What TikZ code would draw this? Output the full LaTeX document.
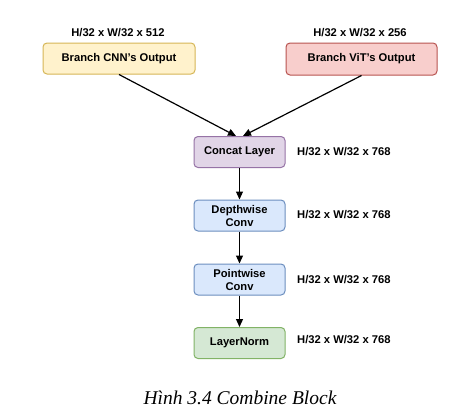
\documentclass[tikz,border=0pt]{standalone}
\usepackage{fontspec}
\setmainfont{Liberation Sans}
\newfontfamily\capfont{Liberation Serif}
\usetikzlibrary{arrows.meta}
\tikzset{
  blk/.style={draw, line width=1pt, rounded corners=4pt, minimum width=91pt, minimum height=31pt, align=center, font=\fontsize{11.2}{13}\selectfont\bfseries, inner sep=1pt},
  dimlbl/.style={font=\fontsize{11.2}{13}\selectfont\bfseries, inner sep=0pt},
  arr/.style={-{Triangle[length=8pt,width=7pt]}, line width=1.2pt}
}
\definecolor{yfill}{HTML}{FFF2CC}\definecolor{ydraw}{HTML}{D6B656}
\definecolor{rfill}{HTML}{F8CECC}\definecolor{rdraw}{HTML}{B85450}
\definecolor{pfill}{HTML}{E1D5E7}\definecolor{pdraw}{HTML}{9673A6}
\definecolor{bfill}{HTML}{DAE8FC}\definecolor{bdraw}{HTML}{6C8EBF}
\definecolor{gfill}{HTML}{D5E8D4}\definecolor{gdraw}{HTML}{82B366}
\begin{document}
\begin{tikzpicture}[x=1pt,y=-1pt]
\useasboundingbox[fill=white] (0,0) rectangle (458,418);
\node[blk, fill=yfill, draw=ydraw, minimum width=152pt] (cnn) at (119,58.5) {Branch CNN's Output};
\node[blk, fill=rfill, draw=rdraw, minimum width=151pt, minimum height=32pt] (vit) at (361.5,59) {Branch ViT's Output};
\node[dimlbl] (lcnn) at (118,33) {H/32 x W/32 x 512};
\node[dimlbl] (lvit) at (360,33) {H/32 x W/32 x 256};
\node[blk, fill=pfill, draw=pdraw] (cat) at (239.5,152) {Concat Layer};
\node[blk, fill=bfill, draw=bdraw] (dw) at (239.5,215.5) {Depthwise\\Conv};
\node[blk, fill=bfill, draw=bdraw] (pw) at (239.5,279.5) {Pointwise\\Conv};
\node[blk, fill=gfill, draw=gdraw] (ln) at (239.5,343) {LayerNorm};
\node[dimlbl, anchor=west] (lcat) at (297,152) {H/32 x W/32 x 768};
\node[dimlbl, anchor=west] (ldw) at (297,215) {H/32 x W/32 x 768};
\node[dimlbl, anchor=west] (lpw) at (297,280) {H/32 x W/32 x 768};
\node[dimlbl, anchor=west] (lln) at (297,340) {H/32 x W/32 x 768};
\draw[arr] (cnn.south) -- ([xshift=-3.5pt]cat.north);
\draw[arr] (vit.south) -- ([xshift=3.5pt]cat.north);
\draw[arr] (cat) -- (dw);
\draw[arr] (dw) -- (pw);
\draw[arr] (pw) -- (ln);
\node[font=\capfont\itshape\fontsize{19.5}{22}\selectfont] (cap) at (240,398) {Hình 3.4 Combine Block};
\end{tikzpicture}
\end{document}
